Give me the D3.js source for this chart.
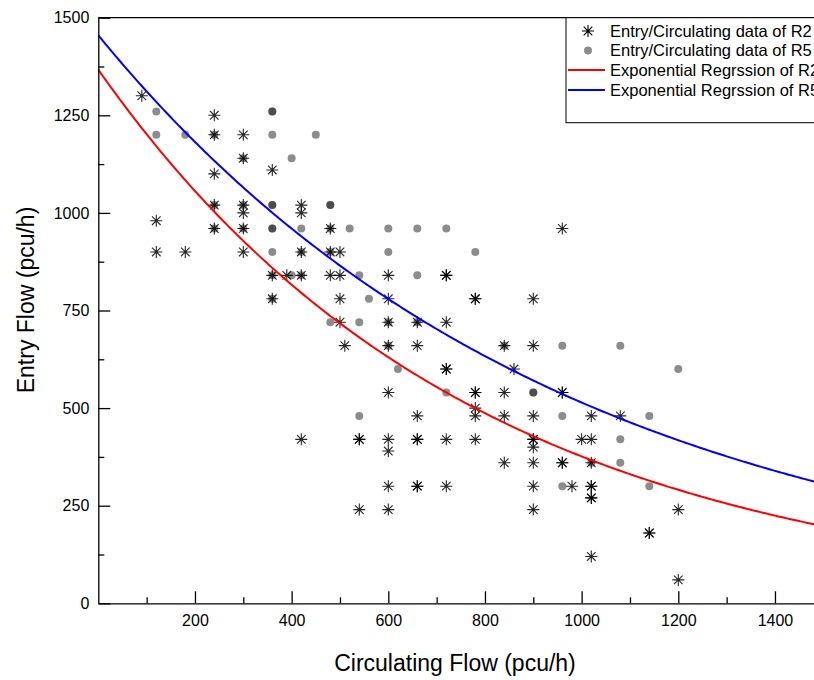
<!DOCTYPE html>
<html>
<head>
<meta charset="utf-8">
<script src="https://cdn.jsdelivr.net/npm/d3@7"></script>
<style>
  body { margin: 0; background: #fff; }
  text { font-family: "Liberation Sans", Arial, sans-serif; }
</style>
</head>
<body>
<script>
// entry / circulating observations, [circulating, entry] in pcu/h
var r2Data = [
  [90,1300],[240,1250],[240,1200],[300,1200],[300,1140],[240,1100],[360,1110],
  [240,1020],[300,1020],[420,1020],[300,1000],[420,1000],[120,980],
  [240,960],[300,960],[480,960],[960,960],
  [120,900],[180,900],[300,900],[420,900],[480,900],[500,900],
  [360,840],[390,840],[420,840],[480,840],[500,840],[600,840],[720,840],[720,840],
  [360,780],[500,780],[600,780],[780,780],[780,780],[900,780],
  [500,720],[600,720],[660,720],[720,720],
  [510,660],[600,660],[660,660],[840,660],[900,660],
  [720,600],[720,600],[860,600],
  [600,540],[780,540],[780,540],[840,540],[960,540],[960,540],
  [780,500],
  [660,480],[780,480],[840,480],[900,480],[1020,480],[1080,480],
  [420,420],[540,420],[540,420],[600,420],[660,420],[660,420],[720,420],[780,420],
  [900,420],[900,420],[1000,420],[1020,420],
  [900,400],[600,390],
  [840,360],[900,360],[960,360],[960,360],[1020,360],
  [600,300],[660,300],[660,300],[720,300],[900,300],[980,300],[1020,300],[1020,300],
  [1020,270],[1020,270],
  [540,240],[600,240],[900,240],[1200,240],
  [1140,180],[1140,180],[1020,120],[1200,60]
];
var r5Data = [
  [120,1260],[360,1260],[360,1260],
  [120,1200],[180,1200],[240,1200],[360,1200],[450,1200],
  [300,1140],[400,1140],
  [240,1020],[300,1020],[360,1020],[360,1020],[480,1020],[480,1020],
  [240,960],[300,960],[360,960],[360,960],[420,960],[480,960],[520,960],[600,960],[660,960],[720,960],
  [360,900],[420,900],[480,900],[600,900],[780,900],
  [360,840],[420,840],[400,840],[540,840],[660,840],
  [360,780],[560,780],
  [480,720],[540,720],[600,720],[660,720],
  [600,660],[840,660],[960,660],[1080,660],
  [620,600],[1200,600],
  [720,540],[900,540],[900,540],
  [540,480],[960,480],[1140,480],
  [1080,420],[1020,360],[1080,360],[960,300],[1140,300]
];

// exponential regression y = a * exp(-b * x)
var fitNames = ["R2", "R5"];
var fitA = [1367, 1455];
var fitB = [0.00129, 0.00104];
var fitColors = ["#ff0000", "#0000ff"];

var xTicks = [200, 400, 600, 800, 1000, 1200, 1400];
var xMinor = [100, 300, 500, 700, 900, 1100, 1300];
var yTicks = [0, 250, 500, 750, 1000, 1250, 1500];
var yMinor = [125, 375, 625, 875, 1125, 1375];

var legendLabels = [
  "Entry/Circulating data of R2",
  "Entry/Circulating data of R5",
  "Exponential Regrssion of R2",
  "Exponential Regrssion of R5"
];

var width = 814, height = 680;
var plotLeft = 98.3, plotTop = 17.7, plotBottom = 603.3, plotRight = 823.3;

var x = d3.scaleLinear().domain([0, 1500]).range([plotLeft, plotRight]);
var y = d3.scaleLinear().domain([0, 1500]).range([plotBottom, plotTop]);

var svg = d3.select("body").append("svg")
    .attr("width", width)
    .attr("height", height);

svg.append("rect")
    .attr("width", width)
    .attr("height", height)
    .attr("fill", "#ffffff");

svg.append("defs").append("clipPath")
    .attr("id", "plot-clip")
  .append("rect")
    .attr("x", plotLeft)
    .attr("y", plotTop)
    .attr("width", plotRight - plotLeft)
    .attr("height", plotBottom - plotTop);

var plot = svg.append("g").attr("clip-path", "url(#plot-clip)");

// R5 dots
plot.selectAll(".dot")
    .data(r5Data)
  .enter().append("circle")
    .attr("class", "dot")
    .attr("cx", function(d) { return x(d[0]); })
    .attr("cy", function(d) { return y(d[1]); })
    .attr("r", 4)
    .attr("fill", "#000")
    .attr("fill-opacity", 0.45);

// R2 stars
var star = "M-6,0H6M0,-6V6M-4.3,-4.3L4.3,4.3M-4.3,4.3L4.3,-4.3";
plot.selectAll(".star")
    .data(r2Data)
  .enter().append("path")
    .attr("class", "star")
    .attr("transform", function(d) { return "translate(" + x(d[0]) + "," + y(d[1]) + ")"; })
    .attr("d", star)
    .attr("stroke", "#000")
    .attr("stroke-opacity", 0.85)
    .attr("stroke-width", 1.1)
    .attr("fill", "none");

// regression curves
var xs = d3.range(0, 1501, 5);
var line = d3.line()
    .x(function(d) { return x(d[0]); })
    .y(function(d) { return y(d[1]); });

fitA.forEach(function(a, i) {
  var pts = xs.map(function(v) { return [v, a * Math.exp(-fitB[i] * v)]; });
  plot.append("path")
      .datum(pts)
      .attr("d", line)
      .attr("fill", "none")
      .attr("stroke", fitColors[i])
      .attr("stroke-width", 2);
});

// frame top
svg.append("line")
    .attr("x1", plotLeft).attr("x2", plotRight)
    .attr("y1", plotTop).attr("y2", plotTop)
    .attr("stroke", "#000")
    .attr("stroke-width", 1.3);

var fmt = d3.format("d");

// x axis
svg.append("g")
    .attr("transform", "translate(0," + plotBottom + ")")
    .call(d3.axisBottom(x).tickValues(xTicks).tickFormat(fmt)
      .tickSizeInner(-12).tickSizeOuter(0).tickPadding(11));
svg.append("g")
    .attr("transform", "translate(0," + plotBottom + ")")
    .call(d3.axisBottom(x).tickValues(xMinor).tickSizeInner(-6).tickSizeOuter(0).tickFormat(""))
    .select(".domain").remove();

// y axis
svg.append("g")
    .attr("transform", "translate(" + plotLeft + ",0)")
    .call(d3.axisLeft(y).tickValues(yTicks).tickFormat(fmt)
      .tickSizeInner(-12).tickSizeOuter(0).tickPadding(9));
svg.append("g")
    .attr("transform", "translate(" + plotLeft + ",0)")
    .call(d3.axisLeft(y).tickValues(yMinor).tickSizeInner(-6).tickSizeOuter(0).tickFormat(""))
    .select(".domain").remove();

svg.selectAll(".domain").attr("stroke-width", 1.3);
svg.selectAll(".tick line").attr("stroke-width", 1.3);
svg.selectAll(".tick text")
    .attr("font-family", "Liberation Sans, Arial, sans-serif")
    .attr("font-size", "16px")
    .attr("fill", "#000");

// axis titles
svg.append("text")
    .attr("x", 455)
    .attr("y", 671)
    .attr("text-anchor", "middle")
    .attr("font-size", "23px")
    .text("Circulating Flow (pcu/h)");

svg.append("text")
    .attr("transform", "translate(34,300) rotate(-90)")
    .attr("text-anchor", "middle")
    .attr("font-size", "23px")
    .text("Entry Flow (pcu/h)");

// legend
var legend = svg.append("g");
legend.append("rect")
    .attr("x", 566)
    .attr("y", plotTop)
    .attr("width", 260)
    .attr("height", 105)
    .attr("fill", "#fff")
    .attr("stroke", "#000")
    .attr("stroke-width", 1);

var rowY = [31, 50.5, 70, 90];
legend.append("path")
    .attr("transform", "translate(588," + rowY[0] + ")")
    .attr("d", star)
    .attr("stroke", "#000")
    .attr("stroke-width", 1.1)
    .attr("fill", "none");
legend.append("circle")
    .attr("cx", 588).attr("cy", rowY[1]).attr("r", 4)
    .attr("fill", "#000").attr("fill-opacity", 0.45);
fitColors.forEach(function(c, i) {
  legend.append("line")
      .attr("x1", 568).attr("x2", 605)
      .attr("y1", rowY[2 + i]).attr("y2", rowY[2 + i])
      .attr("stroke", c)
      .attr("stroke-width", 2);
});
legend.selectAll(".lab")
    .data(legendLabels)
  .enter().append("text")
    .attr("x", 610)
    .attr("y", function(d, i) { return rowY[i]; })
    .attr("dy", "0.35em")
    .attr("font-size", "16.5px")
    .text(function(d) { return d; });
</script>
</body>
</html>
